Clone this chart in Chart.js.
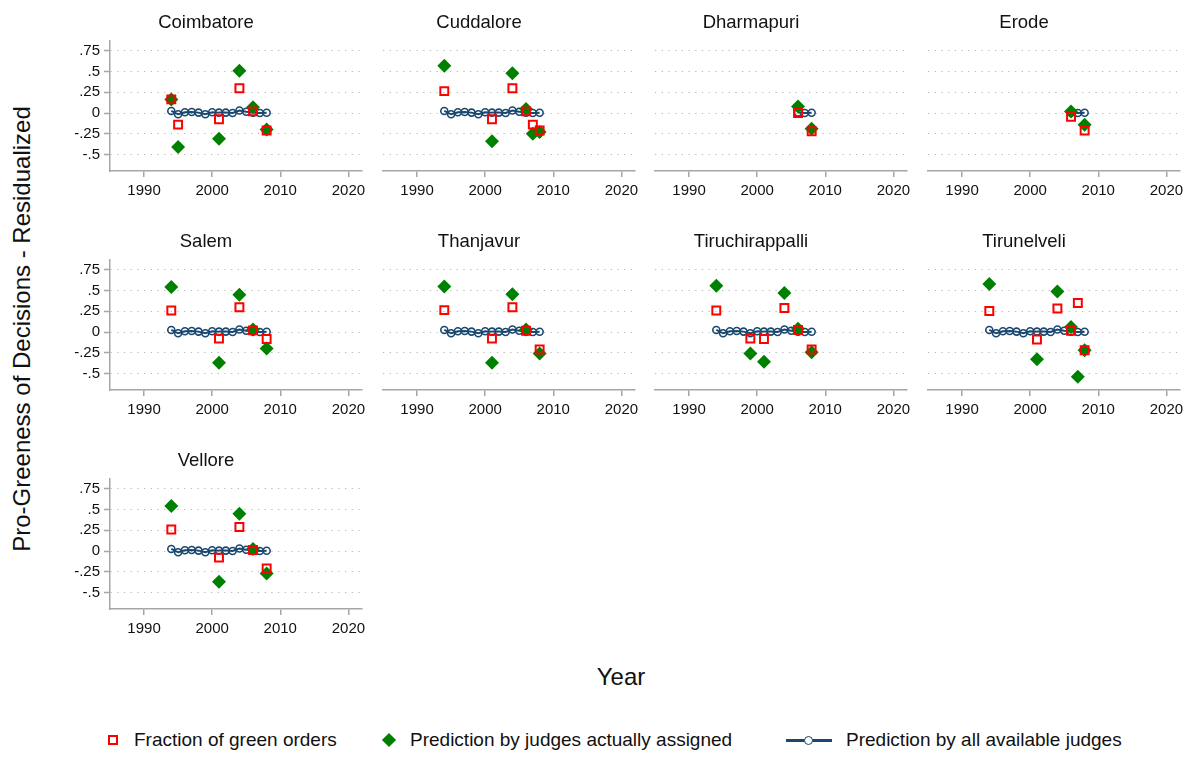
<!DOCTYPE html>
<html lang="en">
<head>
    <meta charset="UTF-8">
    <title>Pro-Greeness of Decisions by District</title>
    <script src="https://cdn.jsdelivr.net/npm/chart.js"></script>
    <style>
        body { margin: 0; background: #fff; font-family: "Liberation Sans", Arial, sans-serif; }
        #page { position: relative; width: 1191px; height: 757px; overflow: hidden; }
        canvas { position: absolute; }
        .label { position: absolute; color: #111; white-space: nowrap; }
        #ytitle { font-size: 24px; left: 22px; top: 329px; transform: translate(-50%, -50%) rotate(-90deg); }
        #xtitle { font-size: 24px; left: 621px; top: 677px; transform: translate(-50%, -50%); }
        .legend-text { font-size: 19px; top: 740px; transform: translateY(-50%); }
        .mk { position: absolute; box-sizing: border-box; }
    </style>
</head>
<body>
<div id="page">
    <div class="label" id="ytitle">Pro-Greeness of Decisions - Residualized</div>
    <div class="label" id="xtitle">Year</div>

    <!-- legend -->
    <span class="mk" style="left:108px; top:735px; width:10px; height:10px; border:2.5px solid #ff0000;"></span>
    <div class="label legend-text" style="left:134px;">Fraction of green orders</div>
    <span class="mk" style="left:384px; top:735px; width:10px; height:10px; background:#008000; transform:rotate(45deg);"></span>
    <div class="label legend-text" style="left:410px;">Prediction by judges actually assigned</div>
    <span class="mk" style="left:786px; top:739px; width:46px; height:2.5px; background:#1a476f;"></span>
    <span class="mk" style="left:804px; top:736px; width:9px; height:9px; border:1.5px solid #1a476f; border-radius:50%; background:#fff;"></span>
    <div class="label legend-text" style="left:846px;">Prediction by all available judges</div>
</div>

<script>
    // panel names
    const districts = ['Coimbatore', 'Cuddalore', 'Dharmapuri', 'Erode',
                       'Salem', 'Thanjavur', 'Tiruchirappalli', 'Tirunelveli', 'Vellore'];

    // years where the fraction / assigned-judge markers are drawn
    const obsYears = [
        [1994, 1995, 2001, 2004, 2006, 2008],
        [1994, 2001, 2004, 2006, 2007, 2008],
        [2006, 2008],
        [2006, 2008],
        [1994, 2001, 2004, 2006, 2008],
        [1994, 2001, 2004, 2006, 2008],
        [1994, 1999, 2001, 2004, 2006, 2008],
        [1994, 2001, 2004, 2006, 2007, 2008],
        [1994, 2001, 2004, 2006, 2008]
    ];

    // Fraction of green orders
    const fracGreen = [
        [0.165, -0.14, -0.075, 0.30, 0.02, -0.21],
        [0.265, -0.075, 0.30, 0.02, -0.14, -0.21],
        [0.0, -0.22],
        [-0.045, -0.21],
        [0.26, -0.08, 0.30, 0.02, -0.085],
        [0.265, -0.08, 0.30, 0.015, -0.21],
        [0.26, -0.08, -0.085, 0.29, 0.025, -0.21],
        [0.255, -0.09, 0.285, 0.015, 0.35, -0.22],
        [0.26, -0.08, 0.29, 0.012, -0.21]
    ];

    // Prediction by judges actually assigned
    const predAssigned = [
        [0.165, -0.41, -0.31, 0.51, 0.07, -0.20],
        [0.57, -0.34, 0.48, 0.05, -0.25, -0.23],
        [0.08, -0.19],
        [0.02, -0.14],
        [0.545, -0.37, 0.45, 0.03, -0.20],
        [0.55, -0.37, 0.455, 0.03, -0.26],
        [0.56, -0.26, -0.36, 0.47, 0.04, -0.245],
        [0.58, -0.33, 0.49, 0.06, -0.54, -0.22],
        [0.545, -0.37, 0.45, 0.024, -0.27]
    ];

    // Prediction by all available judges (yearly series)
    const allYears = [1994, 1995, 1996, 1997, 1998, 1999, 2000, 2001,
                      2002, 2003, 2004, 2005, 2006, 2007, 2008];
    const allJudges = [0.025, -0.015, 0.01, 0.012, 0.005, -0.015, 0.01, 0.005,
                       0.005, 0.0, 0.03, 0.015, 0.005, 0.0, 0.003];
    // first year of that series in each district
    const allStart = [1994, 1994, 2006, 2006, 1994, 1994, 1994, 1994, 1994];

    const xTicks = [1990, 2000, 2010, 2020];
    const yTicks = [-0.5, -0.25, 0, 0.25, 0.5, 0.75];

    const RED = '#ff0000', GREEN = '#008000', NAVY = '#1a476f';
    const AXIS = '#a6a6a6', GRID = '#b5b5b5';

    Chart.defaults.font.family = '"Liberation Sans", Arial, sans-serif';
    Chart.defaults.color = '#111';

    // panel geometry (plot area)
    const plotW = 252, plotH = 130;
    const yAxisW = 60, titleH = 40, xAxisH = 30, padR = 10;

    function fmtY(v) {
        if (v === 0) return '0';
        return String(v).replace('0.', '.');
    }

    const page = document.getElementById('page');

    districts.forEach((name, i) => {
        const col = i % 4, row = Math.floor(i / 4);
        const plotLeft = 110 + col * 272.7;
        const plotTop = 41 + row * 219;

        const canvas = document.createElement('canvas');
        canvas.width = yAxisW + plotW + padR;
        canvas.height = titleH + plotH + xAxisH;
        canvas.style.left = (plotLeft - yAxisW) + 'px';
        canvas.style.top = (plotTop - titleH) + 'px';
        page.appendChild(canvas);

        const first = col === 0;
        const s = allYears.indexOf(allStart[i]);

        new Chart(canvas.getContext('2d'), {
            type: 'scatter',
            data: {
                datasets: [
                    {
                        label: 'Fraction of green orders',
                        data: obsYears[i].map((y, k) => ({ x: y, y: fracGreen[i][k] })),
                        pointStyle: 'rect',
                        pointRadius: 5.6,
                        borderColor: RED,
                        backgroundColor: 'rgba(0,0,0,0)',
                        borderWidth: 2,
                        order: 0
                    },
                    {
                        label: 'Prediction by judges actually assigned',
                        data: obsYears[i].map((y, k) => ({ x: y, y: predAssigned[i][k] })),
                        pointStyle: 'rectRot',
                        pointRadius: 7,
                        borderColor: GREEN,
                        backgroundColor: GREEN,
                        borderWidth: 0,
                        order: 1
                    },
                    {
                        label: 'Prediction by all available judges',
                        data: allYears.slice(s).map((y, k) => ({ x: y, y: allJudges[s + k] })),
                        showLine: true,
                        borderColor: NAVY,
                        borderWidth: 2,
                        pointStyle: 'circle',
                        pointRadius: 3.5,
                        pointBorderWidth: 1.6,
                        pointBorderColor: NAVY,
                        pointBackgroundColor: 'rgba(0,0,0,0)',
                        order: 2
                    }
                ]
            },
            options: {
                responsive: false,
                animation: false,
                devicePixelRatio: 1,
                layout: { padding: { left: 0, right: padR, top: 0, bottom: 0 } },
                plugins: {
                    legend: { display: false },
                    tooltip: { enabled: false },
                    title: {
                        display: true,
                        text: name,
                        font: { size: 18.5, weight: 'normal', lineHeight: 1.2 },
                        color: '#111',
                        padding: { top: 11.3, bottom: 6.5 }
                    }
                },
                scales: {
                    x: {
                        type: 'linear',
                        min: 1985,
                        max: 2022,
                        afterBuildTicks: sc => { sc.ticks = xTicks.map(v => ({ value: v })); },
                        afterFit: sc => { sc.height = xAxisH; },
                        ticks: { font: { size: 15 }, color: '#111', padding: 5, maxRotation: 0, callback: v => String(v) },
                        grid: { drawOnChartArea: false, drawTicks: true, tickLength: 6, color: AXIS, lineWidth: 1.5 },
                        border: { display: true, color: AXIS, width: 1.5 }
                    },
                    y: {
                        min: -0.7,
                        max: 0.87,
                        afterBuildTicks: sc => { sc.ticks = yTicks.map(v => ({ value: v })); },
                        afterFit: sc => { sc.width = yAxisW; },
                        ticks: { display: first, font: { size: 15 }, color: '#111', padding: 4, callback: v => fmtY(v) },
                        grid: {
                            color: GRID,
                            lineWidth: 1,
                            drawTicks: first,
                            tickLength: 6,
                            tickColor: AXIS,
                            tickWidth: 1.5
                        },
                        border: { display: first, color: AXIS, width: 1.5, dash: [1.2, 5.5] }
                    }
                }
            }
        });
    });
</script>
</body>
</html>
